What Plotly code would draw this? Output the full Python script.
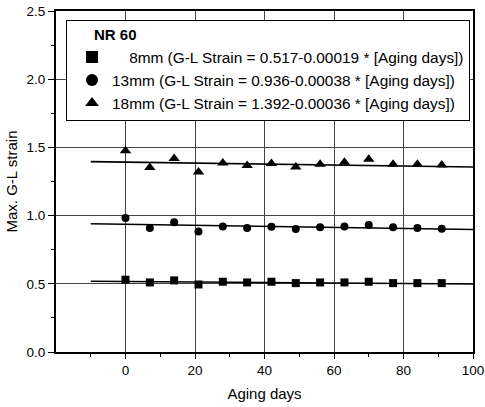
import plotly.graph_objects as go

# ---- data ----
aging_days = [0, 7, 14, 21, 28, 35, 42, 49, 56, 63, 70, 77, 84, 91]
strain_8mm = [0.53, 0.51, 0.525, 0.495, 0.515, 0.51, 0.515, 0.505, 0.51, 0.51, 0.515, 0.505, 0.505, 0.505]
strain_13mm = [0.983, 0.909, 0.951, 0.884, 0.921, 0.909, 0.919, 0.902, 0.914, 0.921, 0.931, 0.914, 0.909, 0.904]
strain_18mm = [1.475, 1.352, 1.419, 1.320, 1.386, 1.367, 1.382, 1.357, 1.377, 1.391, 1.414, 1.377, 1.377, 1.371]

series_names = ["\u2007\u20078mm (G-L Strain = 0.517-0.00019 * [Aging days])",
                "13mm (G-L Strain = 0.936-0.00038 * [Aging days])",
                "18mm (G-L Strain = 1.392-0.00036 * [Aging days])"]
fit_intercepts = [0.517, 0.936, 1.392]
fit_slopes = [-0.00019, -0.00038, -0.00036]
fit_x = [-10, 100]

x_ticks = [0, 20, 40, 60, 80, 100]
y_ticks = [0.0, 0.5, 1.0, 1.5, 2.0, 2.5]

symbols = ["square", "circle", "triangle-up"]
sizes = [8, 8, 10]
series = [strain_8mm, strain_13mm, strain_18mm]

fig = go.Figure()
for vals, name, sym, sz in zip(series, series_names, symbols, sizes):
    fig.add_trace(go.Scatter(x=aging_days, y=vals, mode="markers", name=name,
                             marker=dict(symbol=sym, size=sz, color="black")))
for b, m in zip(fit_intercepts, fit_slopes):
    fig.add_trace(go.Scatter(x=fit_x, y=[b + m * xx for xx in fit_x], mode="lines",
                             line=dict(color="black", width=1.6), showlegend=False,
                             hoverinfo="skip"))

font = "Liberation Sans, Arial, sans-serif"
fig.update_layout(
    width=485, height=407,
    margin=dict(l=56, r=12, t=11, b=55, autoexpand=False),
    plot_bgcolor="white", paper_bgcolor="white",
    font=dict(family=font, color="black", size=13),
    showlegend=True,
    legend=dict(
        x=0.024, y=0.974, xanchor="left", yanchor="top",
        bordercolor="black", borderwidth=1, bgcolor="white",
        font=dict(size=15.4, family=font, color="black"),
        title=dict(text="\u2007\u2007\u2007<b>NR 60</b>", font=dict(size=15, family=font, color="black")),
        tracegroupgap=0, itemsizing="constant", indentation=5,
    ),
    xaxis=dict(
        range=[-20, 100], tickvals=x_ticks, ticks="outside", ticklen=5, tickwidth=1.2,
        tickcolor="black", automargin=False,
        showline=True, linecolor="black", linewidth=1.8, mirror=True,
        showgrid=True, gridcolor="#444444", gridwidth=1, zeroline=False,
        tickfont=dict(size=13.5, color="black", family=font),
        title=dict(text="Aging days", font=dict(size=15, color="black", family=font), standoff=11),
        minor=dict(tickvals=[-10, 10, 30, 50, 70, 90], ticks="outside", ticklen=3,
                   tickcolor="black", showgrid=False),
    ),
    yaxis=dict(
        range=[0, 2.5], tickvals=y_ticks, ticktext=[f"{v:.1f}" for v in y_ticks],
        ticks="outside", ticklen=6, tickwidth=1.2, tickcolor="black", automargin=False,
        showline=True, linecolor="black", linewidth=1.8, mirror=True,
        showgrid=True, gridcolor="#444444", gridwidth=1, zeroline=False,
        tickfont=dict(size=13.5, color="black", family=font),
        title=dict(text="Max. G-L strain", font=dict(size=15, color="black", family=font), standoff=5),
        minor=dict(tickvals=[0.25, 0.75, 1.25, 1.75, 2.25], ticks="outside", ticklen=3,
                   tickcolor="black", showgrid=False),
    ),
)

fig.write_html("out.html")
